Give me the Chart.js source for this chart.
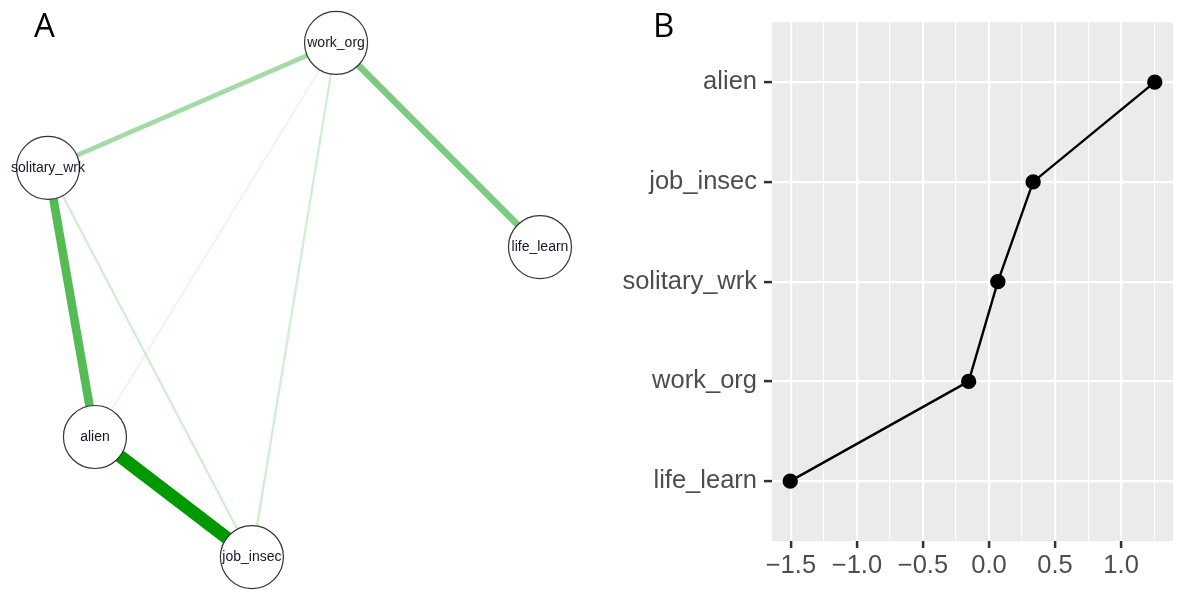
<!DOCTYPE html>
<html>
<head>
<meta charset="utf-8">
<script src="https://cdn.jsdelivr.net/npm/chart.js@4.4.1/dist/chart.umd.min.js"></script>
<style>
  body { margin: 0; background: #fff; }
  #wrap { position: relative; width: 1200px; height: 601px; overflow: hidden; }
  canvas { position: absolute; top: 0; }
  #netChart { left: 0; }
  #scoreChart { left: 600px; }
  .panel-tag {
    position: absolute;
    font-family: "Open Sans", "Liberation Sans", sans-serif;
    font-size: 33px;
    line-height: 33px;
    color: #000;
  }
</style>
</head>
<body>
<div id="wrap">
  <canvas id="netChart" width="600" height="601"></canvas>
  <canvas id="scoreChart" width="600" height="601"></canvas>
  <div class="panel-tag" style="left:34px; top:8px;">A</div>
  <div class="panel-tag" style="left:653px; top:8px;">B</div>
</div>
<script>
// panel A: network layout (qgraph-like coordinates, -1..1)
const nodeNames = ["work_org", "solitary_wrk", "life_learn", "alien", "job_insec"];
const nodeX = [0.171, -1.0, 1.0, -0.809, -0.171];
const nodeY = [1.0, 0.514, 0.206, -0.533, -1.0];

const edgeFrom = ["alien", "solitary_wrk", "work_org", "work_org", "solitary_wrk", "work_org", "work_org"];
const edgeTo = ["job_insec", "alien", "life_learn", "solitary_wrk", "job_insec", "job_insec", "alien"];
const edgeWeight = [0.45, 0.30, 0.23, 0.16, 0.08, 0.08, 0.045];

// panel B: scores per variable (bottom to top)
const categories = ["life_learn", "work_org", "solitary_wrk", "job_insec", "alien"];
const scores = [-1.505, -0.154, 0.067, 0.334, 1.255];
const xMajorTicks = [-1.5, -1.0, -0.5, 0.0, 0.5, 1.0];
const xTickLabels = ["\u22121.5", "\u22121.0", "\u22120.5", "0.0", "0.5", "1.0"];
const xMinorTicks = [-1.25, -0.75, -0.25, 0.25, 0.75, 1.25];

const maxW = Math.max(...edgeWeight);
const nodeAt = (name) => {
  const i = nodeNames.indexOf(name);
  return { x: nodeX[i], y: nodeY[i] };
};
const edgeColor = (w) => {
  const t = w / maxW;
  const r = Math.round(255 * (1 - t));
  const g = Math.round(255 - 102 * t);
  return `rgb(${r},${g},${r})`;
};

const edgeSets = edgeFrom.map((from, i) => ({
  type: "scatter",
  data: [nodeAt(from), nodeAt(edgeTo[i])],
  showLine: true,
  borderColor: edgeColor(edgeWeight[i]),
  borderWidth: Math.max(1.5, 13 * edgeWeight[i] / maxW),
  pointRadius: 0,
  order: 1,
}));

const nodeLabels = {
  id: "nodeLabels",
  afterDatasetsDraw(chart) {
    const { ctx, scales } = chart;
    ctx.save();
    ctx.font = "14px 'Liberation Sans', Arial, sans-serif";
    ctx.fillStyle = "#15152a";
    ctx.textAlign = "center";
    ctx.textBaseline = "middle";
    nodeNames.forEach((name, i) => {
      ctx.fillText(name, scales.x.getPixelForValue(nodeX[i]), scales.y.getPixelForValue(nodeY[i]));
    });
    ctx.restore();
  },
};

new Chart(document.getElementById("netChart"), {
  type: "scatter",
  data: {
    datasets: [
      ...edgeSets,
      {
        data: nodeNames.map((n, i) => ({ x: nodeX[i], y: nodeY[i] })),
        pointRadius: 31.5,
        pointBackgroundColor: "#fff",
        pointBorderColor: "#333",
        pointBorderWidth: 1.2,
        order: 0,
      },
    ],
  },
  options: {
    responsive: false,
    animation: false,
    layout: { padding: 0, autoPadding: false },
    plugins: { legend: { display: false }, tooltip: { enabled: false } },
    scales: {
      x: { display: false, min: -1.195, max: 1.244 },
      y: { display: false, min: -1.171, max: 1.167 },
    },
  },
  plugins: [nodeLabels],
});

// panel B
const panelBg = {
  id: "panelBg",
  beforeDraw(chart) {
    const { ctx, chartArea: a } = chart;
    ctx.save();
    ctx.fillStyle = "#ebebeb";
    ctx.fillRect(a.left, a.top, a.right - a.left, a.bottom - a.top);
    ctx.restore();
  },
};

const lo = Math.min(...scores);
const hi = Math.max(...scores);
const pad = (hi - lo) * 0.05;
const isMajor = (v) => xMajorTicks.some((m) => Math.abs(m - v) < 1e-6);
const tickFont = { family: "'Liberation Sans', Arial, sans-serif", size: 25.5 };

new Chart(document.getElementById("scoreChart"), {
  type: "scatter",
  data: {
    datasets: [
      {
        data: scores.map((s, i) => ({ x: s, y: i })),
        showLine: true,
        borderColor: "#000",
        borderWidth: 2.4,
        pointRadius: 6.5,
        pointBackgroundColor: "#000",
        pointBorderColor: "#000",
      },
    ],
  },
  options: {
    responsive: false,
    animation: false,
    layout: { padding: { top: 21, right: 27, left: 0, bottom: 0 }, autoPadding: false },
    plugins: { legend: { display: false }, tooltip: { enabled: false } },
    scales: {
      x: {
        type: "linear",
        min: lo - pad,
        max: hi + pad,
        afterBuildTicks(scale) {
          scale.ticks = [...xMajorTicks, ...xMinorTicks].sort((a, b) => a - b).map((v) => ({ value: v }));
        },
        afterFit(scale) { scale.height = 60; },
        ticks: {
          autoSkip: false,
          maxRotation: 0,
          color: "#4d4d4d",
          font: tickFont,
          padding: 3,
          callback: (v) => (isMajor(v) ? xTickLabels[xMajorTicks.findIndex((m) => Math.abs(m - v) < 1e-6)] : ""),
        },
        grid: {
          color: "#fff",
          lineWidth: (c) => (isMajor(c.tick.value) ? 2.2 : 1.1),
          tickColor: (c) => (isMajor(c.tick.value) ? "#333" : "rgba(0,0,0,0)"),
          tickWidth: 2.5,
          tickLength: 7,
        },
        border: { display: false },
      },
      y: {
        type: "linear",
        min: -0.6,
        max: categories.length - 1 + 0.6,
        afterBuildTicks(scale) {
          scale.ticks = categories.map((c, i) => ({ value: i }));
        },
        afterFit(scale) { scale.width = 172; },
        ticks: {
          autoSkip: false,
          color: "#4d4d4d",
          font: tickFont,
          padding: 7,
          callback: (v) => categories[v],
        },
        grid: {
          color: "#fff",
          lineWidth: 2.2,
          tickColor: "#333",
          tickWidth: 2.5,
          tickLength: 8,
        },
        border: { display: false },
      },
    },
  },
  plugins: [panelBg],
});
</script>
</body>
</html>
